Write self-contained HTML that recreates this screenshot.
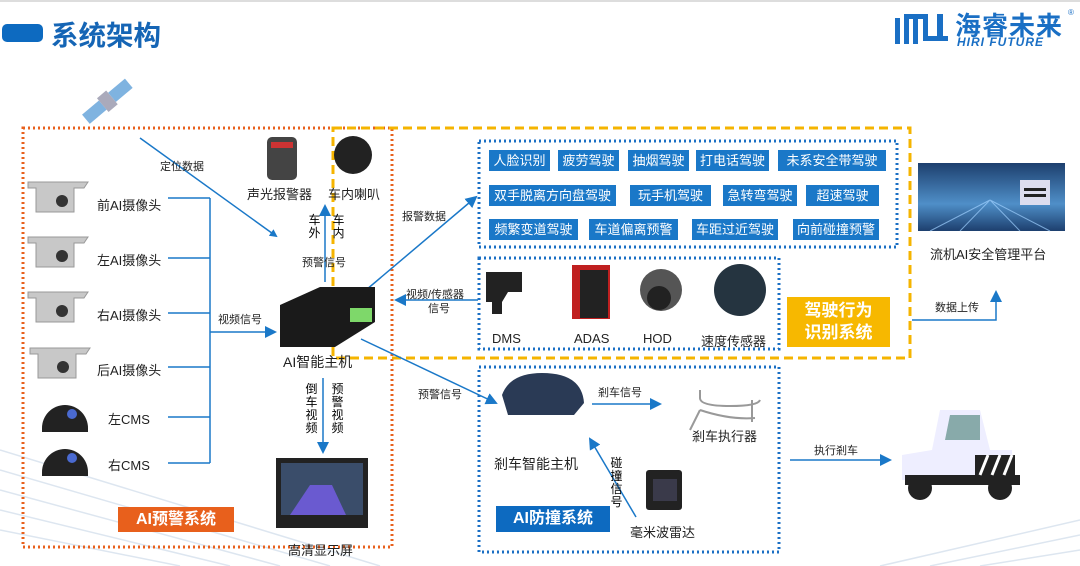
<!DOCTYPE html>
<html><head><meta charset="utf-8"><style>
body{margin:0;width:1080px;height:566px;overflow:hidden;background:#fff;font-family:"Liberation Sans","Noto Sans CJK SC",sans-serif;position:relative}
.a{position:absolute;white-space:nowrap}
.t{position:absolute;height:21px;background:#1a78c8;color:#fff;font-size:13px;line-height:21px;text-align:center}
.l{font-size:12px;color:#222}
.v{width:13px;white-space:normal;line-height:13px;font-size:12px;text-align:center}
</style></head><body>
<div style="position:absolute;left:0;top:0;width:1080px;height:2px;background:#ddd"></div>
<svg class="a" style="left:0;top:0" width="1080" height="566"><g stroke="#dde6f0" stroke-width="1.5" fill="none">
<path d="M0,450L380,566M0,470L330,566M0,490L280,566M0,510L230,566M0,530L180,566"/>
<path d="M1080,520L880,566M1080,535L930,566M1080,550L980,566"/></g></svg>
<div class="a" style="left:2px;top:24px;width:41px;height:18px;background:#0d6ac0;border-radius:5px"></div>
<div class="a" style="left:51px;top:13px;font-size:27.5px;font-weight:bold;color:#1565b5">系统架构</div>
<svg class="a" style="left:893px;top:10px" width="60" height="36"><g fill="#1a6fc4"><rect x="2" y="8" width="5" height="26"/><rect x="11" y="4" width="22" height="5"/><rect x="11" y="9" width="5" height="25"/><rect x="20" y="9" width="5" height="25"/><rect x="30" y="4" width="5" height="22"/><rect x="30" y="26" width="25" height="5"/><rect x="44" y="4" width="6" height="27"/></g></svg>
<div class="a" style="left:955px;top:6px;font-size:26px;font-weight:bold;color:#1a6fc4;letter-spacing:1px">海睿未来</div>
<div class="a" style="left:957px;top:35px;font-size:12px;font-weight:bold;font-style:italic;color:#1a6fc4;letter-spacing:1px">HIRI FUTURE</div>
<div class="a" style="left:1068px;top:8px;font-size:8px;color:#1a6fc4">®</div>

<svg class="a" style="left:0;top:0" width="1080" height="566">
<defs><marker id="ar" markerWidth="8" markerHeight="8" refX="6" refY="4" orient="auto" markerUnits="userSpaceOnUse"><path d="M0,0L8,4L0,8z" fill="#1a78c8"/></marker>
<marker id="ar2" markerWidth="12" markerHeight="12" refX="10" refY="6" orient="auto" markerUnits="userSpaceOnUse"><path d="M0,0L12,6L0,12z" fill="#1a78c8"/></marker>
<linearGradient id="pg" x1="0" y1="0" x2="0" y2="1"><stop offset="0" stop-color="#1d3f6e"/><stop offset="0.6" stop-color="#4f8fc8"/><stop offset="1" stop-color="#1d3f6e"/></linearGradient></defs>
<rect x="23" y="128" width="369" height="419" fill="none" stroke="#e8601c" stroke-width="3" stroke-dasharray="2,3"/>
<rect x="333" y="128" width="577" height="230" fill="none" stroke="#f5b400" stroke-width="3" stroke-dasharray="9,5"/>
<g fill="none" stroke="#1a6fc4" stroke-width="3" stroke-dasharray="2,3">
<rect x="479" y="141" width="418" height="106"/><rect x="479" y="258" width="300" height="91"/><rect x="479" y="367" width="300" height="185"/></g>
<g stroke="#1a78c8" stroke-width="1.5" fill="none">
<path d="M168,198H210M168,258H210M168,313H210M168,367H210M168,417H210M168,463H210M210,198V463"/>
<line x1="210" y1="332" x2="275" y2="332" marker-end="url(#ar2)"/>
<line x1="140" y1="138" x2="276" y2="236" marker-end="url(#ar)"/>
<line x1="325" y1="282" x2="325" y2="206" marker-end="url(#ar2)"/>
<line x1="323" y1="378" x2="323" y2="452" marker-end="url(#ar2)"/>
<line x1="366" y1="290" x2="476" y2="197" marker-end="url(#ar2)"/>
<line x1="478" y1="300" x2="396" y2="300" marker-end="url(#ar2)"/>
<line x1="361" y1="339" x2="496" y2="403" marker-end="url(#ar2)"/>
<line x1="592" y1="404" x2="660" y2="404" marker-end="url(#ar2)"/>
<line x1="636" y1="517" x2="590" y2="439" marker-end="url(#ar2)"/>
<line x1="790" y1="460" x2="890" y2="460" marker-end="url(#ar2)"/>
<path d="M912,320H996V292" marker-end="url(#ar2)"/>
</g>
<g transform="rotate(-40 108 102)"><rect x="80" y="95" width="22" height="12" fill="#7fb3e0"/><rect x="114" y="95" width="22" height="12" fill="#7fb3e0"/><rect x="102" y="92" width="12" height="18" fill="#aab"/></g>
<g fill="#c8c8c8" stroke="#999"><path d="M28,182h60l-4,6h-10v24h-38v-24h-8z"/><path d="M28,237h60l-4,6h-10v24h-38v-24h-8z"/><path d="M28,292h60l-4,6h-10v24h-38v-24h-8z"/><path d="M30,348h60l-4,6h-10v24h-38v-24h-8z"/></g>
<g fill="#333"><circle cx="62" cy="201" r="6"/><circle cx="62" cy="256" r="6"/><circle cx="62" cy="311" r="6"/><circle cx="63" cy="367" r="6"/></g>
<path d="M42,428a22,22 0 0 1 46,0v4h-46z" fill="#222"/><path d="M42,472a22,22 0 0 1 46,0v4h-46z" fill="#222"/>
<circle cx="72" cy="414" r="5" fill="#4a6ad0"/><circle cx="72" cy="458" r="5" fill="#4a6ad0"/>
<rect x="267" y="137" width="30" height="43" rx="5" fill="#444"/><rect x="271" y="142" width="22" height="6" fill="#c33"/>
<circle cx="353" cy="155" r="19" fill="#222"/>
<path d="M280,305l40,-18h55v35l-40,25h-55z" fill="#1a1a1a"/><rect x="350" y="308" width="22" height="14" fill="#7ed86a"/>
<rect x="276" y="458" width="92" height="70" fill="#222"/><rect x="281" y="463" width="82" height="52" fill="#3a4d6a"/><path d="M290,515l20,-30h22l14,30z" fill="#6a5ad0"/>
<path d="M486,272h36v20h-14l-6,10v12h-10v-12h-6z" fill="#222"/>
<rect x="572" y="265" width="38" height="54" fill="#c02020"/><rect x="580" y="270" width="28" height="48" fill="#222"/>
<circle cx="661" cy="290" r="21" fill="#555"/><circle cx="659" cy="298" r="12" fill="#222"/>
<circle cx="740" cy="290" r="26" fill="#253440"/>
<path d="M502,395q8,-22 40,-22q40,0 42,30l-10,12h-66z" fill="#2a3a55"/>
<path d="M700,390v8q0,8 30,8q28,0 30,-6M700,410q30,10 55,8M752,400v22M690,430l10,-20" stroke="#999" stroke-width="2" fill="none"/>
<rect x="646" y="470" width="36" height="40" rx="3" fill="#222"/><rect x="653" y="479" width="24" height="22" fill="#3a3a4a"/>
<path d="M940,410h40l10,40h22v30h-110v-25l30,-5z" fill="#eef"/><path d="M950,415h30v25h-35z" fill="#8aa"/>
<g fill="#222"><path d="M975,455h40v20h-40z"/><path d="M905,475h115v10h-115z"/></g>
<g stroke="#fff" stroke-width="3"><path d="M980,475l8,-20M992,475l8,-20M1004,475l8,-20"/></g>
<circle cx="920" cy="488" r="12" fill="#222"/><circle cx="1000" cy="488" r="12" fill="#222"/>
<rect x="918" y="163" width="147" height="68" fill="url(#pg)"/>
<g stroke="#9fd0ff" stroke-width="1" opacity="0.7"><path d="M990,200L930,231M990,200L960,231M990,200L1020,231M990,200L1050,231"/></g>
<rect x="1020" y="180" width="30" height="25" fill="#dde"/><rect x="1024" y="188" width="22" height="3" fill="#222"/><rect x="1024" y="194" width="22" height="3" fill="#222"/>
</svg>

<div class="t" style="left:489px;top:150px;width:61px">人脸识别</div>
<div class="t" style="left:558px;top:150px;width:61px">疲劳驾驶</div>
<div class="t" style="left:628px;top:150px;width:61px">抽烟驾驶</div>
<div class="t" style="left:696px;top:150px;width:73px">打电话驾驶</div>
<div class="t" style="left:778px;top:150px;width:108px">未系安全带驾驶</div>
<div class="t" style="left:489px;top:185px;width:127px">双手脱离方向盘驾驶</div>
<div class="t" style="left:630px;top:185px;width:81px">玩手机驾驶</div>
<div class="t" style="left:723px;top:185px;width:74px">急转弯驾驶</div>
<div class="t" style="left:806px;top:185px;width:73px">超速驾驶</div>
<div class="t" style="left:489px;top:219px;width:89px">频繁变道驾驶</div>
<div class="t" style="left:589px;top:219px;width:89px">车道偏离预警</div>
<div class="t" style="left:692px;top:219px;width:86px">车距过近驾驶</div>
<div class="t" style="left:793px;top:219px;width:86px">向前碰撞预警</div>

<div class="a" style="left:787px;top:297px;width:103px;height:50px;background:#f7b800;color:#fff;font-weight:bold;font-size:17px;line-height:22px;text-align:center;padding-top:3px;box-sizing:border-box">驾驶行为<br>识别系统</div>
<div class="a" style="left:118px;top:507px;width:116px;height:25px;background:#e8601c;color:#fff;font-weight:bold;font-size:16px;line-height:25px;text-align:center">AI预警系统</div>
<div class="a" style="left:496px;top:506px;width:114px;height:26px;background:#0d6ac0;color:#fff;font-weight:bold;font-size:16px;line-height:26px;text-align:center">AI防撞系统</div>

<div class="a l" style="left:97px;top:195px;font-size:13px">前AI摄像头</div>
<div class="a l" style="left:97px;top:250px;font-size:13px">左AI摄像头</div>
<div class="a l" style="left:97px;top:305px;font-size:13px">右AI摄像头</div>
<div class="a l" style="left:97px;top:360px;font-size:13px">后AI摄像头</div>
<div class="a l" style="left:108px;top:409px;font-size:13px">左CMS</div>
<div class="a l" style="left:108px;top:455px;font-size:13px">右CMS</div>
<div class="a l" style="left:160px;top:158px;font-size:11px">定位数据</div>
<div class="a l" style="left:218px;top:311px;font-size:11px">视频信号</div>
<div class="a l" style="left:247px;top:184px;font-size:13px">声光报警器</div>
<div class="a l" style="left:328px;top:184px;font-size:13px">车内喇叭</div>
<div class="a v" style="left:308px;top:214px">车外</div>
<div class="a v" style="left:332px;top:214px">车内</div>
<div class="a l" style="left:302px;top:254px;font-size:11px">预警信号</div>
<div class="a" style="left:283px;top:352px;font-size:14px;color:#222">AI智能主机</div>
<div class="a v" style="left:305px;top:383px">倒车视频</div>
<div class="a v" style="left:331px;top:383px">预警视频</div>
<div class="a l" style="left:288px;top:540px;font-size:13px">高清显示屏</div>
<div class="a l" style="left:402px;top:208px;font-size:11px">报警数据</div>
<div class="a l" style="left:406px;top:286px;font-size:11px">视频/传感器</div>
<div class="a l" style="left:428px;top:300px;font-size:11px">信号</div>
<div class="a l" style="left:418px;top:386px;font-size:11px">预警信号</div>
<div class="a l" style="left:492px;top:331px;font-size:13px">DMS</div>
<div class="a l" style="left:574px;top:331px;font-size:13px">ADAS</div>
<div class="a l" style="left:643px;top:331px;font-size:13px">HOD</div>
<div class="a l" style="left:701px;top:331px;font-size:13px">速度传感器</div>
<div class="a l" style="left:930px;top:244px;font-size:13px">流机AI安全管理平台</div>
<div class="a l" style="left:935px;top:299px;font-size:11px">数据上传</div>
<div class="a l" style="left:494px;top:454px;font-size:14px">剎车智能主机</div>
<div class="a l" style="left:598px;top:384px;font-size:11px">剎车信号</div>
<div class="a l" style="left:692px;top:426px;font-size:13px">剎车执行器</div>
<div class="a v" style="left:610px;top:457px">碰撞信号</div>
<div class="a l" style="left:630px;top:522px;font-size:13px">毫米波雷达</div>
<div class="a l" style="left:814px;top:442px;font-size:11px">执行剎车</div>
</body></html>
